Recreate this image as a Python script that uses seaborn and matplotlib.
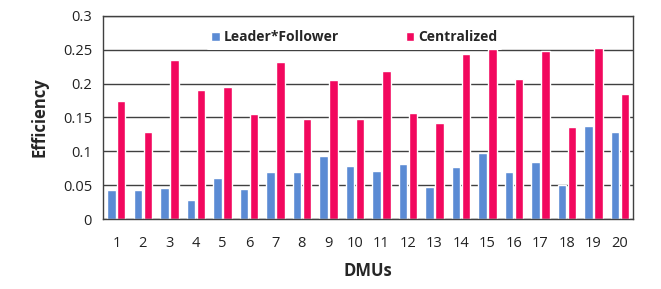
import numpy as np
import pandas as pd
import seaborn as sns
from matplotlib import pyplot as plt

dmus = [str(i) for i in range(1, 21)]
leader_follower = [0.043, 0.043, 0.046, 0.028, 0.060, 0.044, 0.070, 0.070, 0.093, 0.079,
                   0.071, 0.082, 0.047, 0.077, 0.098, 0.070, 0.084, 0.051, 0.137, 0.129]
centralized = [0.174, 0.129, 0.235, 0.191, 0.195, 0.155, 0.232, 0.148, 0.205, 0.148,
               0.219, 0.156, 0.142, 0.244, 0.251, 0.207, 0.248, 0.136, 0.252, 0.184]
y_ticks = [0, 0.05, 0.1, 0.15, 0.2, 0.25, 0.3]
y_tick_labels = ['0', '0.05', '0.1', '0.15', '0.2', '0.25', '0.3']

df = pd.DataFrame({
    'DMU': dmus * 2,
    'Efficiency': leader_follower + centralized,
    'Model': ['Leader*Follower'] * 20 + ['Centralized'] * 20,
})

sns.set_style('white')
plt.rcParams['font.family'] = ['Open Sans', 'DejaVu Sans']

fig, ax = plt.subplots(figsize=(6.61, 2.89), dpi=100)
fig.subplots_adjust(left=0.156, right=0.958, top=0.945, bottom=0.242)

sns.barplot(data=df, x='DMU', y='Efficiency', hue='Model',
            palette=['#5B8BD4', '#F2085E'], saturation=1, width=0.74, gap=0.14,
            ax=ax, legend=True)

ax.set_ylim(0, 0.3)
ax.set_xlim(-0.5, 19.5)
ax.set_yticks(y_ticks)
ax.set_yticklabels(y_tick_labels)
ax.yaxis.grid(True, color='#404040', linewidth=1.0)
ax.set_axisbelow(True)
for s in ax.spines.values():
    s.set_color('#404040')
    s.set_linewidth(1.0)
ax.tick_params(axis='y', labelsize=10.5, colors='#222222', length=0, pad=8)
ax.tick_params(axis='x', labelsize=10.5, colors='#222222', length=0, pad=12)

ax.set_xlabel('DMUs', fontsize=12, fontweight='bold', labelpad=8)
ax.set_ylabel('Efficiency', fontsize=12, fontweight='bold', labelpad=10)

ax.legend(loc='upper center', bbox_to_anchor=(0.474, 0.99), ncol=2, frameon=True,
          facecolor='white', edgecolor='none', framealpha=1.0,
          handlelength=0.6, handleheight=0.6, handletextpad=0.3, columnspacing=4.8,
          prop={'weight': 'bold', 'size': 10})

plt.savefig('out.png', dpi=100)
